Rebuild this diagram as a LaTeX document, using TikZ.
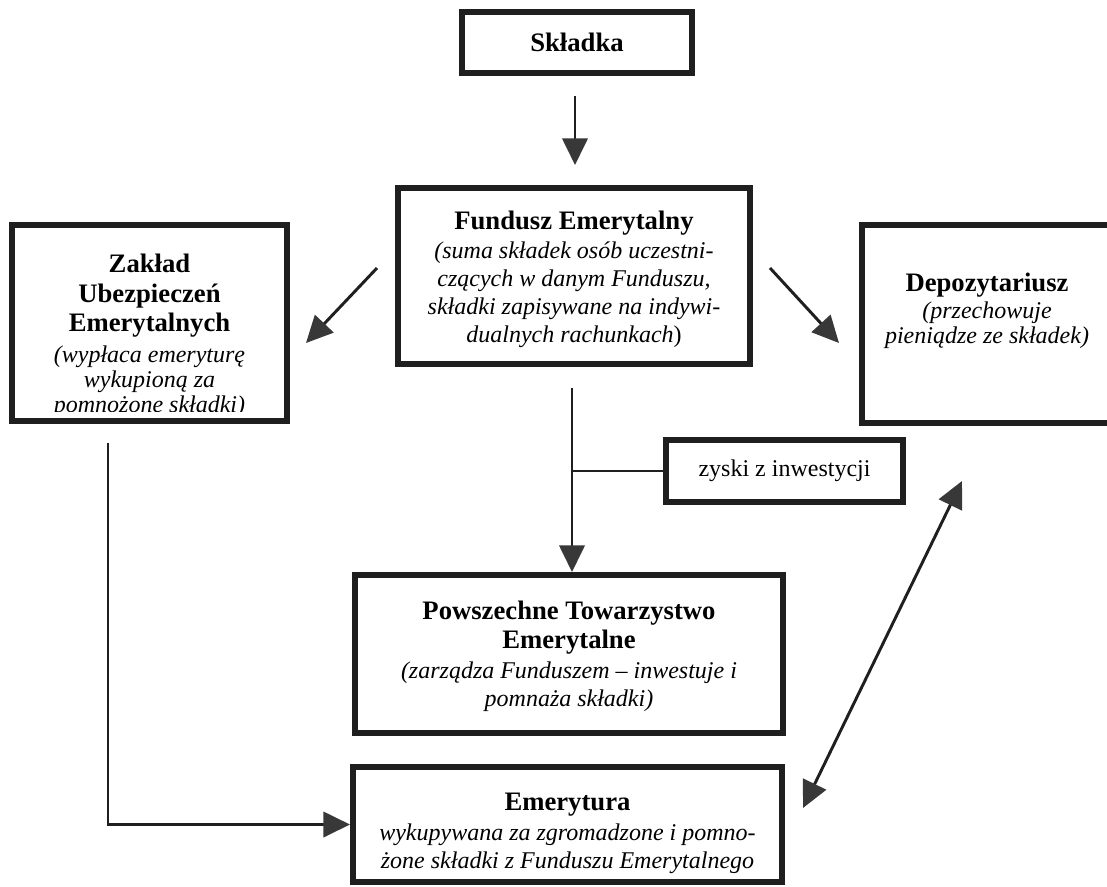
\documentclass[tikz,border=0pt]{standalone}
\usepackage{fontspec}
\setmainfont{Liberation Serif}
\usetikzlibrary{arrows.meta,calc}
\newcommand\px{0.75pt}
\newcommand\hd[1]{{\fontsize{20}{22}\selectfont\bfseries #1}}

\begin{document}
\begin{tikzpicture}[x=0.75pt,y=-0.75pt,
  box/.style={draw=ink, line width=4.5pt, fill=white, inner sep=0pt},
  txt/.style={inner sep=0pt, align=center, text=black, font=\fontsize{18}{21}\selectfont},
  conn/.style={draw=ink, line width=2.2pt},
  arr/.style={conn, -{Triangle[length=20pt,width=19pt,color=tip]}},
  dblarr/.style={conn, {Triangle[length=20pt,width=19pt,color=tip]}-{Triangle[length=20pt,width=19pt,color=tip]}}]
\definecolor{ink}{rgb}{0.12,0.12,0.12}
\definecolor{tip}{rgb}{0.22,0.22,0.22}
\useasboundingbox (0,0) rectangle (1107,886);
\clip (0,0) rectangle (1107,886);
\fill[white] (0,0) rectangle (1107,886);
% boxes
\node[box, minimum width=230*\px, minimum height=61*\px] (skladka) at (577,42.5) {};
\node[box, minimum width=352*\px, minimum height=176*\px] (fundusz) at (574,276) {};
\node[box, minimum width=275*\px, minimum height=196*\px] (zaklad) at (149.5,323) {};
\node[box, minimum width=250*\px, minimum height=198*\px] (depo) at (987,324) {};
\node[box, minimum width=237*\px, minimum height=62*\px] (zyski) at (784.5,471) {};
\node[box, minimum width=428*\px, minimum height=158*\px] (pte) at (569,654) {};
\node[box, minimum width=429*\px, minimum height=115*\px] (emer) at (567.5,824.5) {};
% texts
\node[txt] (skladka-t) at (skladka) {\hd{Składka}};
\node[txt] (fundusz-t) at ($(fundusz)+(0,3)$) {\hd{Fundusz Emerytalny}\\[1pt]
  \textit{(suma składek osób uczestni-}\\ \textit{czących w danym Funduszu,}\\
  \textit{składki zapisywane na indywi-}\\ \textit{dualnych rachunkach})};
\begin{scope}
\clip ($(zaklad.south west)+(3,-13)$) rectangle ($(zaklad.north east)+(-3,3)$);
\node[txt, anchor=north] (zaklad-t) at ($(zaklad.north)+(0,32)$) {\hd{Zakład}\\[1pt]
  \hd{Ubezpieczeń}\\[1pt] \hd{Emerytalnych}\\[2pt]
  \textit{(wypłaca emeryturę}\\[-2pt] \textit{wykupioną za}\\[-2pt] \textit{pomnożone składki)}};
\end{scope}
\node[txt] (depo-t) at ($(depo)+(0,-13)$) {\hd{Depozytariusz}\\[-1pt]
  \textit{(przechowuje}\\[-2pt] \textit{pieniądze ze składek)}};
\node[txt] (zyski-t) at (zyski) {zyski z inwestycji};
\node[txt] (pte-t) at ($(pte)+(0,2)$) {\hd{Powszechne Towarzystwo}\\[1pt] \hd{Emerytalne}\\[1pt]
  \textit{(zarządza Funduszem -- inwestuje i}\\ \textit{pomnaża składki)}};
\node[txt] (emer-t) at ($(emer)+(0,9)$) {\hd{Emerytura}\\[1pt]
  \textit{wykupywana za zgromadzone i pomno-}\\ \textit{żone składki z Funduszu Emerytalnego}};
% connectors
\draw[arr, shorten >=15pt] ($(skladka.south)+(-2,20)$) coordinate (s1) -- (s1 |- fundusz.north);
\draw[arr] ($(fundusz.west)+(-18,-8)$) -- ($(zaklad.east)+(16,20)$);
\draw[arr] ($(fundusz.east)+(17,-8)$) -- ($(depo.west)+(-20,19)$);
\draw[arr] ($(fundusz.south)+(-2,21)$) coordinate (f1) -- (f1 |- pte.north);
\draw[conn] (zyski.west) -- (zyski.west -| f1);
\draw[arr] ($(zaklad.south)+(-41.5,19)$) |- (emer.west);
\draw[dblarr] ($(emer.east)+(18,-16.5)$) -- ($(depo.south)+(-25,55)$);
\end{tikzpicture}
\end{document}
